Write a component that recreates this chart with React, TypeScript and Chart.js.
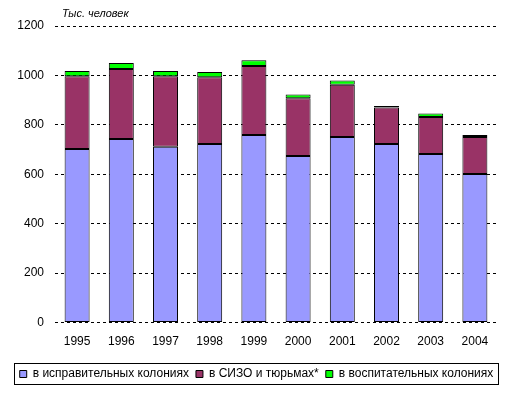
import React, { useEffect, useRef } from "react";
import { Chart, registerables } from "chart.js";

Chart.register(...registerables);

const years = ["1995", "1996", "1997", "1998", "1999", "2000", "2001", "2002", "2003", "2004"];
const seriesNames = ["в исправительных колониях", "в СИЗО и тюрьмах*", "в воспитательных колониях"];
const correctional = [702, 743, 711, 723, 759, 674, 751, 723, 682, 601];
const detention = [295, 283, 286, 270, 279, 234, 211, 147, 150, 150];
const educational = [21, 24, 21, 21, 23, 15, 18, 6, 14, 8];
const unitLabel = "Тыс. человек";

const FONT = "Arial, 'Liberation Sans', sans-serif";

const framePlugin = {
  id: "frameAndTitle",
  afterDraw(chart: any) {
    const ctx = chart.ctx;
    const lg = chart.legend;
    ctx.save();
    if (lg && lg.legendHitBoxes && lg.legendHitBoxes.length) {
      const boxes = lg.legendHitBoxes;
      let minX = Infinity, maxX = -Infinity, minY = Infinity, maxY = -Infinity;
      for (const b of boxes) {
        minX = Math.min(minX, b.left);
        maxX = Math.max(maxX, b.left + b.width);
        minY = Math.min(minY, b.top);
        maxY = Math.max(maxY, b.top + b.height);
      }
      const cy = (minY + maxY) / 2;
      ctx.strokeStyle = "#000";
      ctx.lineWidth = 1;
      ctx.strokeRect(Math.round(minX - 6) + 0.5, Math.round(cy - 11) + 0.5, Math.round(maxX - minX + 10), 21);
    }
    ctx.fillStyle = "#000";
    ctx.font = "italic 11px " + FONT;
    ctx.textBaseline = "middle";
    ctx.textAlign = "left";
    ctx.fillText(unitLabel, chart.chartArea.left + 7, chart.chartArea.top - 12);
    ctx.restore();
  },
};

export default function App() {
  const ref = useRef<HTMLCanvasElement>(null);
  useEffect(() => {
    const mk = (label: string, data: number[], color: string) => ({
      label,
      data,
      backgroundColor: color,
      borderColor: "#000",
      borderWidth: 1,
      borderSkipped: false,
      barPercentage: 0.565,
      categoryPercentage: 1,
    });
    const chart = new Chart(ref.current!, {
      type: "bar",
      data: {
        labels: years,
        datasets: [
          mk(seriesNames[0], correctional, "#9999FF"),
          mk(seriesNames[1], detention, "#993366"),
          mk(seriesNames[2], educational, "#00FF00"),
        ],
      },
      options: {
        animation: false,
        responsive: false,
        maintainAspectRatio: false,
        layout: { padding: { top: 26, left: 0, right: 0, bottom: 4 } },
        plugins: {
          legend: {
            position: "bottom",
            labels: {
              font: { family: FONT, size: 12 },
              color: "#000",
              boxWidth: 7,
              boxHeight: 7,
              padding: 7,
            },
          },
          tooltip: { enabled: false },
          title: { display: false },
        },
        scales: {
          x: {
            stacked: true,
            grid: { display: false, drawTicks: false },
            border: { display: false },
            ticks: { font: { family: FONT, size: 12 }, color: "#000", padding: 12 },
          },
          y: {
            stacked: true,
            min: 0,
            max: 1200,
            ticks: {
              stepSize: 200,
              font: { family: FONT, size: 12 },
              color: "#000",
              padding: 11,
              callback: (v: any) => String(v),
            },
            grid: { color: "#000", drawTicks: false, lineWidth: 1 },
            border: { display: false, dash: [3, 3] },
            afterFit: (s: any) => {
              s.width = 55;
            },
          },
          yRight: {
            position: "right",
            display: true,
            min: 0,
            max: 1200,
            grid: { display: false, drawTicks: false },
            border: { display: false },
            ticks: { display: false },
            afterFit: (s: any) => {
              s.width = 16;
            },
          },
        },
      },
      plugins: [framePlugin],
    });
    return () => chart.destroy();
  }, []);
  return (
    <div style={{ position: "fixed", left: 0, top: 0, width: 513, height: 394, background: "#fff" }}>
      <canvas ref={ref} width={513} height={394} style={{ display: "block" }} />
    </div>
  );
}
